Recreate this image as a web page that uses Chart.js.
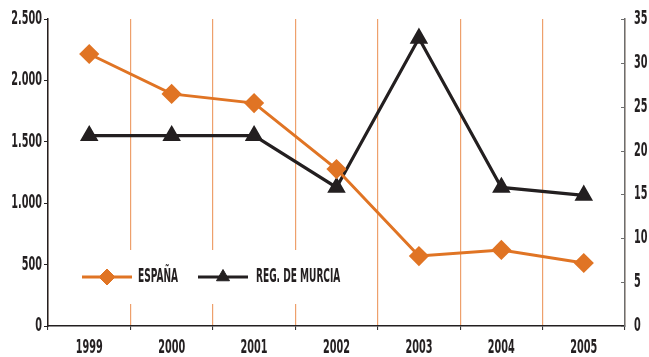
<!DOCTYPE html>
<html>
<head>
<meta charset="utf-8">
<script src="https://cdn.jsdelivr.net/npm/chart.js@4/dist/chart.umd.min.js"></script>
<style>
  html, body { margin: 0; padding: 0; background: #ffffff; }
  #wrap { width: 649px; height: 357px; }
</style>
</head>
<body>
<div id="wrap"><canvas id="c" width="649" height="357"></canvas></div>
<script>
// Years on the horizontal axis
const years = ['1999', '2000', '2001', '2002', '2003', '2004', '2005'];
// España (left axis)
const espana = [2215, 1890, 1815, 1278, 570, 619, 513];
// Región de Murcia (right axis)
const murcia = [21.7, 21.7, 21.7, 15.8, 32.8, 15.8, 14.9];
// Axis settings
const leftMax = 2500, leftStep = 500;
const rightMax = 35, rightStep = 5;

const ORANGE = '#e07424';
const GRID = '#eea06c';
const INK = '#231f20';
const FONT = '"DejaVu Sans Condensed", "Liberation Sans Narrow", sans-serif';
const FONT_SIZE = 19;

function fmtThousands(v) {
  return String(v).replace(/\B(?=(\d{3})+(?!\d))/g, '.');
}

function setFont(ctx) {
  ctx.font = '600 ' + FONT_SIZE + 'px ' + FONT;
}

// horizontal squeeze so that a sample string takes a given width
function squeezeFor(ctx, sample, width) {
  ctx.save();
  setFont(ctx);
  const w = ctx.measureText(sample).width;
  ctx.restore();
  return width / w;
}

// Condensed text: horizontally squeezed canvas text
function drawText(ctx, str, x, y, align, squeeze) {
  ctx.save();
  setFont(ctx);
  ctx.fillStyle = INK;
  ctx.textBaseline = 'middle';
  ctx.textAlign = align;
  ctx.translate(x, y);
  ctx.scale(squeeze, 1);
  ctx.fillText(str, 0, 0);
  ctx.restore();
}

const labelsPlugin = {
  id: 'axisLabels',
  afterDraw(chart) {
    const ctx = chart.ctx;
    const { x, y, y1 } = chart.scales;
    const sq = squeezeFor(ctx, '1999', 27);
    // category labels
    x.ticks.forEach((t, i) => {
      drawText(ctx, years[i], x.getPixelForTick(i), 348, 'center', sq);
    });
    // left axis labels
    y.ticks.forEach(t => {
      drawText(ctx, fmtThousands(t.value), 42, y.getPixelForValue(t.value), 'right', sq);
    });
    // right axis labels and inner tick marks
    y1.ticks.forEach(t => {
      const py = y1.getPixelForValue(t.value);
      drawText(ctx, String(t.value), 634, py, 'left', sq);
      ctx.save();
      ctx.strokeStyle = '#6d6d6d';
      ctx.lineWidth = 1;
      ctx.beginPath();
      ctx.moveTo(y1.left - 4, Math.round(py) + 0.5);
      ctx.lineTo(y1.left, Math.round(py) + 0.5);
      ctx.stroke();
      ctx.restore();
    });
  }
};

const legendPlugin = {
  id: 'insideLegend',
  beforeDatasetsDraw(chart) {
    const ctx = chart.ctx;
    ctx.save();
    ctx.fillStyle = '#ffffff';
    ctx.fillRect(70, 250, 292, 54);
    ctx.restore();
  },
  afterDatasetsDraw(chart) {
    const ctx = chart.ctx;
    const ly = 277;
    const sq = squeezeFor(ctx, 'ESPAÑA', 40);
    const items = [
      { ds: 0, x0: 82, tx: 138 },
      { ds: 1, x0: 198, tx: 256 }
    ];
    items.forEach(it => {
      const d = chart.data.datasets[it.ds];
      ctx.save();
      ctx.strokeStyle = d.borderColor;
      ctx.lineWidth = 3;
      ctx.beginPath();
      ctx.moveTo(it.x0, ly);
      ctx.lineTo(it.x0 + 50, ly);
      ctx.stroke();
      ctx.fillStyle = d.pointBackgroundColor;
      ctx.strokeStyle = d.pointBorderColor;
      ctx.lineWidth = 1;
      Chart.helpers.drawPoint(ctx, {
        pointStyle: d.pointStyle,
        radius: d.pointRadius,
        borderWidth: 1,
        rotation: 0
      }, it.x0 + 25, ly);
      ctx.restore();
      drawText(ctx, d.label, it.tx, ly, 'left', sq);
    });
  }
};

Chart.register(labelsPlugin, legendPlugin);

const chart = new Chart(document.getElementById('c'), {
  type: 'line',
  data: {
    labels: years,
    datasets: [
      {
        label: 'ESPAÑA',
        data: espana,
        yAxisID: 'y',
        borderColor: ORANGE,
        backgroundColor: ORANGE,
        borderWidth: 3,
        pointStyle: 'rectRot',
        pointRadius: 8,
        pointHoverRadius: 8,
        pointBackgroundColor: ORANGE,
        pointBorderColor: ORANGE,
        tension: 0
      },
      {
        label: 'REG. DE MURCIA',
        data: murcia,
        yAxisID: 'y1',
        borderColor: INK,
        backgroundColor: INK,
        borderWidth: 3.2,
        pointStyle: 'triangle',
        pointRadius: 7.5,
        pointHoverRadius: 7.5,
        pointBackgroundColor: INK,
        pointBorderColor: INK,
        tension: 0
      }
    ]
  },
  options: {
    responsive: false,
    animation: false,
    devicePixelRatio: 1,
    layout: { padding: { top: 19, left: 0, right: 0, bottom: 0 } },
    plugins: { legend: { display: false }, tooltip: { enabled: false } },
    scales: {
      x: {
        type: 'category',
        offset: true,
        grid: {
          offset: true,
          color: GRID,
          lineWidth: 1.2,
          drawTicks: true,
          tickLength: 4,
          tickColor: INK,
          tickWidth: 1
        },
        border: { color: INK, width: 1.5 },
        ticks: { display: false },
        afterFit(s) { s.height = 31; }
      },
      y: {
        position: 'left',
        min: 0,
        max: leftMax,
        ticks: { stepSize: leftStep, display: false },
        grid: { drawOnChartArea: false, drawTicks: true, tickLength: 4, tickColor: INK },
        border: { color: INK, width: 1.5 },
        afterFit(s) { s.width = 48; }
      },
      y1: {
        position: 'right',
        min: 0,
        max: rightMax,
        ticks: { stepSize: rightStep, display: false },
        grid: { drawOnChartArea: false, drawTicks: false },
        border: { color: '#6d6d6d', width: 1.5 },
        afterFit(s) { s.width = 24; }
      }
    }
  }
});
</script>
</body>
</html>
